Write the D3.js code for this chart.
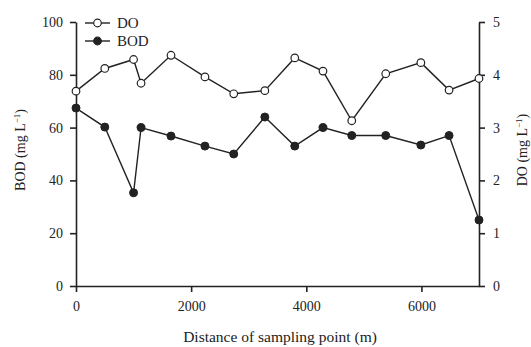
<!DOCTYPE html>
<html>
<head>
<meta charset="utf-8">
<script src="https://cdn.jsdelivr.net/npm/d3@7"></script>
<style>
  body { margin: 0; background: #fff; }
  svg { display: block; }
  .axis path, .axis line { stroke: #222; stroke-width: 1.6px; }
</style>
</head>
<body>
<svg id="chart" width="531" height="347"></svg>
<script>
// sampling distances (m)
const distance = [0, 500, 1000, 1130, 1650, 2240, 2740, 3280, 3800, 4290, 4790, 5380, 5990, 6480, 7000];
// BOD, mg/L (left axis)
const bod = [67.4, 60.2, 35.3, 60, 56.8, 53, 50, 64, 53, 60, 57, 57, 53.4, 57, 25];
// DO, mg/L (right axis)
const dox = [3.69, 4.12, 4.29, 3.84, 4.37, 3.96, 3.64, 3.70, 4.32, 4.07, 3.13, 4.02, 4.23, 3.71, 3.93];

const xTicks = [0, 2000, 4000, 6000];
const bodTicks = [0, 20, 40, 60, 80, 100];
const doTicks = [0, 1, 2, 3, 4, 5];

const margin = { left: 76, right: 52, top: 22, bottom: 61 };
const W = 531, H = 347;
const FONT = "'Liberation Serif', 'Times New Roman', serif";

const svg = d3.select('#chart');

const x = d3.scaleLinear().domain([0, 7000]).range([margin.left, W - margin.right]);
const yL = d3.scaleLinear().domain([0, 100]).range([H - margin.bottom, margin.top]);
const yR = d3.scaleLinear().domain([0, 5]).range([H - margin.bottom, margin.top]);

function styleAxis(g) {
    g.attr('font-family', null).attr('font-size', null);
    g.selectAll('text').style('font-size', '14px').attr('fill', '#222');
}

// axes
svg.append('g').attr('class', 'axis')
    .attr('transform', `translate(0,${H - margin.bottom})`)
    .call(d3.axisBottom(x).tickValues(xTicks).tickSize(6).tickSizeOuter(0).tickPadding(9).tickFormat(d3.format('d')))
    .call(styleAxis);

svg.append('g').attr('class', 'axis')
    .attr('transform', `translate(${margin.left},0)`)
    .call(d3.axisLeft(yL).tickValues(bodTicks).tickSize(6).tickSizeOuter(0).tickPadding(7).tickFormat(d3.format('d')))
    .call(styleAxis);

svg.append('g').attr('class', 'axis')
    .attr('transform', `translate(${W - margin.right},0)`)
    .call(d3.axisRight(yR).tickValues(doTicks).tickSize(6).tickSizeOuter(0).tickPadding(8).tickFormat(d3.format('d')))
    .call(styleAxis);

// axis titles
svg.append('text')
    .attr('x', 280)
    .attr('y', 342)
    .attr('text-anchor', 'middle')
    .style('font-size', '15.5px')
    .text('Distance of sampling point (m)');

const leftTitle = svg.append('text')
    .attr('transform', 'translate(25,150) rotate(-90)')
    .attr('text-anchor', 'middle')
    .style('font-size', '14px');
leftTitle.append('tspan').text('BOD (mg L');
leftTitle.append('tspan').attr('dy', -5).style('font-size', '9px').text('\u22121');
leftTitle.append('tspan').attr('dy', 5).text(')');

const rightTitle = svg.append('text')
    .attr('transform', 'translate(527,150) rotate(-90)')
    .attr('text-anchor', 'middle')
    .style('font-size', '14px');
rightTitle.append('tspan').text('DO (mg L');
rightTitle.append('tspan').attr('dy', -5).style('font-size', '9px').text('\u22121');
rightTitle.append('tspan').attr('dy', 5).text(')');

// series
const lineDO = d3.line().x((d, i) => x(distance[i])).y(d => yR(d));
const lineBOD = d3.line().x((d, i) => x(distance[i])).y(d => yL(d));

svg.append('path').datum(dox).attr('d', lineDO)
    .attr('fill', 'none').attr('stroke', '#222').attr('stroke-width', 1.4);
svg.append('path').datum(bod).attr('d', lineBOD)
    .attr('fill', 'none').attr('stroke', '#222').attr('stroke-width', 1.4);

svg.append('g').selectAll('circle').data(dox).enter().append('circle')
    .attr('cx', (d, i) => x(distance[i])).attr('cy', d => yR(d))
    .attr('r', 3.8).attr('fill', '#fff').attr('stroke', '#222').attr('stroke-width', 1.2);
svg.append('g').selectAll('circle').data(bod).enter().append('circle')
    .attr('cx', (d, i) => x(distance[i])).attr('cy', d => yL(d))
    .attr('r', 4).attr('fill', '#222').attr('stroke', '#222').attr('stroke-width', 1);

// legend
const legend = [
    { name: 'DO', fill: '#fff', y: 23 },
    { name: 'BOD', fill: '#222', y: 41 }
];
const lg = svg.append('g').selectAll('g').data(legend).enter().append('g');
lg.append('line').attr('x1', 85).attr('x2', 110).attr('y1', d => d.y).attr('y2', d => d.y)
    .attr('stroke', '#222').attr('stroke-width', 1.4);
lg.append('circle').attr('cx', 97.5).attr('cy', d => d.y).attr('r', 3.8)
    .attr('fill', d => d.fill).attr('stroke', '#222').attr('stroke-width', 1.2);
lg.append('text').attr('x', 117).attr('y', d => d.y + 5)
    .style('font-size', '15px').text(d => d.name);

// serif everywhere
svg.selectAll('text').style('font-family', FONT).style('fill', '#222');
</script>
</body>
</html>
